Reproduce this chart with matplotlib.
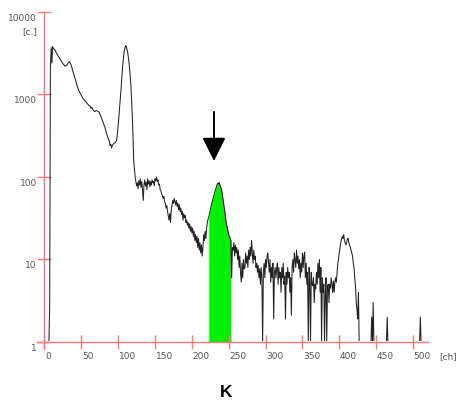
import numpy as np
import matplotlib
matplotlib.use("Agg")
import matplotlib.pyplot as plt
from matplotlib.transforms import ScaledTranslation
from matplotlib.patches import Rectangle

# ---- data (channel, counts) ----
ch_head = [5, 6, 7, 8, 9, 10, 11, 12, 14, 16, 18, 20, 22, 24, 26, 28, 30, 32, 34, 36, 38, 40,
           42, 44, 46, 48, 50, 52, 54, 56, 58, 60, 62, 63, 64, 66, 68, 70, 72, 74, 76, 78,
           80, 82, 84, 86, 88, 89, 90, 91, 92, 94, 96, 98, 100, 102, 104, 106, 108, 110,
           111, 113, 115, 117, 119, 120, 121, 123, 125]
cnt_head = [1, 1, 2.6, 2000, 3700, 2400, 3800, 3600, 3500, 3200, 3000, 2800, 2600, 2450,
            2300, 2200, 2250, 2400, 2500, 2300, 2000, 1750, 1500, 1300, 1150, 1050, 980,
            900, 860, 820, 780, 740, 720, 680, 700, 650, 620, 640, 630, 610, 560, 500, 450,
            400, 340, 300, 270, 240, 250, 225, 240, 255, 260, 280, 420, 700, 1200, 2200,
            3300, 3900, 3850, 3200, 2300, 1400, 600, 330, 160, 100, 78]

start_a = 126
cnt_a = [85, 72, 90, 80, 95, 75, 88, 70, 52, 80,
         92, 78, 86, 70, 95, 82, 90, 76, 88, 80,
         92, 85, 88, 78, 95, 90, 100, 88, 92, 80,
         82, 70, 68, 62, 60, 55, 58, 50, 48, 42,
         45, 38, 34, 30, 36, 28, 40, 45, 52, 48,
         55, 50, 46, 52, 44, 48, 40, 46, 38, 42,
         35, 38, 30, 36, 32, 34, 28, 30, 26, 28,
         24, 27, 22, 25, 21, 24, 19, 22, 17, 20,
         16, 19, 14, 18, 13, 16, 12, 15, 11, 14]
start_b = 216
cnt_b = [20, 17, 22, 18, 24, 28, 31, 33, 36, 40,
         44, 48, 52, 56, 60, 65, 70, 74, 80, 84,
         82, 86, 80, 76, 72, 64, 55, 48, 42, 36,
         30, 27, 24, 22, 20, 19, 18, 17]
start_c = 254
cnt_c = [6, 14, 13, 16, 11, 15, 12, 14, 10, 13,
         8, 11, 7, 5.3, 9, 6, 10, 7.7, 8, 12,
         9, 11, 8, 13, 10, 14, 11, 17, 12, 9,
         13, 10, 11, 8, 9, 7, 8.5, 6, 7.7, 5,
         8, 6, 1, 7, 9, 6, 10]
start_d = 301
cnt_d = [8, 11, 12, 9, 7, 10, 5.3, 8, 6, 9,
         1.9, 7, 8, 6, 7.7, 9, 5, 8, 6, 7,
         4, 8, 6, 9, 5, 6.3, 1.9, 7, 5, 8,
         6, 7, 4, 6, 2.1, 8, 10, 7, 12, 10,
         8, 13, 9, 11, 7.7, 10, 6, 9, 7, 12,
         8, 11, 12.3, 6, 9, 5, 7, 1, 8, 6,
         1, 7, 5, 4.8, 6, 3, 5, 4.4, 7, 5,
         9, 6, 10, 4, 8]
start_e = 376
cnt_e = [1, 6, 4, 5, 1, 4, 6, 1, 4.8, 5,
         3, 5, 4.5, 6, 5, 4, 5.5, 4, 5.3, 6,
         5.3, 7, 9, 10, 12, 14, 16, 17.7, 19, 18,
         20, 17, 16, 15, 16, 17.7, 18, 16, 15, 14,
         13, 12, 11, 9, 8, 6, 4.8, 3, 2.5, 1.9,
         4, 1]
ch_tail = [428, 443, 444, 445, 446, 447, 464, 465, 466, 509, 510, 511]
cnt_tail = [1, 1, 2, 1, 3, 1, 1, 2, 1, 1, 2, 1]

green_range = (223, 253)
arrow_ch = 230
arrow_from, arrow_to = 615, 156

x_ticks = [0, 50, 100, 150, 200, 250, 300, 350, 400, 450, 500]
y_ticks = [1, 10, 100, 1000, 10000]
y_tick_labels = ["1", "10", "100", "1000", "10000"]

# ---- assemble ----
ch = list(ch_head)
cnt = list(cnt_head)
for s, arr in [(start_a, cnt_a), (start_b, cnt_b), (start_c, cnt_c),
               (start_d, cnt_d), (start_e, cnt_e)]:
    ch += list(range(s, s + len(arr)))
    cnt += list(arr)
ch += ch_tail
cnt += cnt_tail
ch = np.array(ch, dtype=float)
cnt = np.array(cnt, dtype=float)

red = "#ff7878"
lab_col = "#555555"

fig = plt.figure(figsize=(4.6, 4.06), dpi=100)
ax = fig.add_axes([0.0807, 0.1377, 0.8491, 0.8303])
ax.set_yscale("log")
ax.set_xlim(-10, 520)
ax.set_ylim(0.82, 10000)

mask = (ch >= green_range[0]) & (ch <= green_range[1])
ax.fill_between(ch[mask], 1, cnt[mask], color="#00f000", lw=0, zorder=1)
line, = ax.plot(ch, cnt, color="#222222", lw=0.75, zorder=2)
clip = Rectangle((-10, 1.03), 540, 20000, transform=ax.transData,
                 facecolor="none", edgecolor="none")
ax.add_patch(clip)
line.set_clip_path(clip)

for s in ["top", "right"]:
    ax.spines[s].set_visible(False)
ax.spines["left"].set_position(("data", 0))
ax.spines["bottom"].set_position(("data", 1))
for s in ["left", "bottom"]:
    ax.spines[s].set_color(red)
    ax.spines[s].set_linewidth(1.0)
    ax.spines[s].set_zorder(3)

ax.set_xticks(x_ticks)
ax.set_yticks(y_ticks)
ax.yaxis.set_minor_locator(matplotlib.ticker.NullLocator())
ax.tick_params(axis="both", which="major", direction="inout", length=9.5,
               width=1.0, color=red, labelleft=False, labelbottom=False)

dpi = fig.dpi_scale_trans
# y labels
for v, t in zip(y_ticks, y_tick_labels):
    ax.text(-10.5, v, t, ha="right", va="center", fontsize=6.5, color=lab_col,
            transform=ax.transData + ScaledTranslation(0, -5.5 / 100, dpi), clip_on=False)
ax.text(-10.5, 10000, "[c.]", ha="right", va="center", fontsize=6.5, color=lab_col,
        transform=ax.transData + ScaledTranslation(0, -19 / 100, dpi), clip_on=False)
# x labels
for v in x_ticks:
    ax.text(v, 1, str(v), ha="left", va="center", fontsize=6.5, color=lab_col,
            transform=ax.transData + ScaledTranslation(0.5 / 100, -14 / 100, dpi), clip_on=False)
ax.text(535, 1, "[ch]", ha="left", va="center", fontsize=6.5, color=lab_col,
        transform=ax.transData + ScaledTranslation(0, -14 / 100, dpi), clip_on=False)

# arrow
ax.annotate("", xy=(arrow_ch, arrow_to), xytext=(arrow_ch, arrow_from),
            arrowprops=dict(arrowstyle="-|>,head_length=1.45,head_width=0.72",
                            color="black", lw=1.4, mutation_scale=10,
                            shrinkA=0, shrinkB=0))

fig.text(0.491, (406 - 393) / 406, "K", fontsize=12.5, fontweight="bold",
         family="Liberation Sans", ha="center", va="center")

fig.savefig("out.png", dpi=100)
